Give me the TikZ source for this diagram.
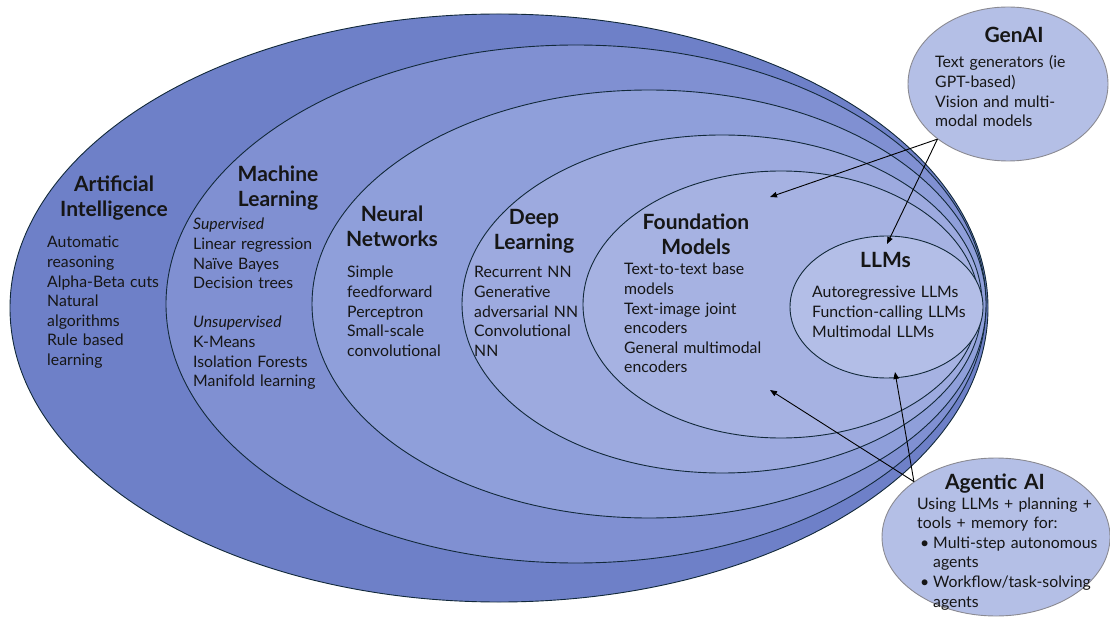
\documentclass[tikz,border=0pt]{standalone}
\usepackage{fontspec}
\setmainfont{Lato}
\usetikzlibrary{shapes.geometric,arrows.meta}

\definecolor{edge}{HTML}{12293A}
\definecolor{ink}{HTML}{161616}
\definecolor{cAI}{HTML}{6E80C8}
\definecolor{cML}{HTML}{8090D2}
\definecolor{cNN}{HTML}{8F9FDA}
\definecolor{cDL}{HTML}{9DAADF}
\definecolor{cFM}{HTML}{A6B2E2}
\definecolor{cLLM}{HTML}{B3BEE7}
\definecolor{cSide}{HTML}{B4BFE6}
\definecolor{sideedge}{HTML}{8A8A92}

\begin{document}
\begin{tikzpicture}[x=1pt,y=-1pt,
  layer/.style={ellipse, draw=edge, line width=0.9pt, inner sep=0pt},
  sidebubble/.style={ellipse, draw=sideedge, line width=0.9pt, fill=cSide, inner sep=0pt},
  title/.style={font=\bfseries\fontsize{21}{25}\selectfont, text width=170pt, align=center,
                anchor=base, text=ink, inner sep=0pt},
  items/.style={font=\fontsize{15.8}{19.6}\selectfont, text width=220pt, align=left,
                anchor=base west, text=ink, inner sep=0pt},
  link/.style={-{Triangle[length=7pt,width=5.5pt]}, line width=0.9pt, draw=black}]

\useasboundingbox (0,0) rectangle (1110,617);

% nested fields, outermost first
\node[layer, fill=cAI,  minimum width=978pt, minimum height=588pt] (ai)  at (499,308) {};
\node[layer, fill=cML,  minimum width=820pt, minimum height=518pt] (ml)  at (576,304) {};
\node[layer, fill=cNN,  minimum width=674pt, minimum height=428pt] (nn)  at (649,304) {};
\node[layer, fill=cDL,  minimum width=520pt, minimum height=338pt] (dl)  at (722,304) {};
\node[layer, fill=cFM,  minimum width=396pt, minimum height=267pt] (fm)  at (781,304.5) {};
\node[layer, fill=cLLM, minimum width=193pt, minimum height=142pt] (llm) at (886.5,307) {};

% side bubbles
\node[sidebubble, minimum width=200pt, minimum height=154pt] (genai)   at (1008,84) {};
\node[sidebubble, minimum width=228pt, minimum height=158pt] (agentic) at (996,537) {};

% Artificial Intelligence
\node[title] (aiT) at (114,192) {Artificial\\Intelligence};
\node[items] (aiL) at (47,248) {Automatic\\reasoning\\Alpha-Beta cuts\\Natural\\algorithms\\Rule based\\learning};

% Machine Learning
\node[title] (mlT) at (278,182) {Machine\\Learning};
\node[items] (mlL) at (193,230) {\textit{Supervised}\\Linear regression\\Naïve Bayes\\Decision trees\\[19.6pt]\textit{Unsupervised}\\K-Means\\Isolation Forests\\Manifold learning};

% Neural Networks
\node[title] (nnT) at (392,222) {Neural\\Networks};
\node[items] (nnL) at (347,278) {Simple\\feedforward\\Perceptron\\Small-scale\\convolutional};

% Deep Learning
\node[title] (dlT) at (534,225) {Deep\\Learning};
\node[items] (dlL) at (474,278) {Recurrent NN\\Generative\\adversarial NN\\Convolutional\\NN};

% Foundation Models
\node[title] (fmT) at (696,230) {Foundation\\Models};
\node[items] (fmL) at (624,275) {Text-to-text base\\models\\Text-image joint\\encoders\\General multimodal\\encoders};

% LLMs
\node[title] (llmT) at (885.5,268) {LLMs};
\node[items] (llmL) at (812,298) {Autoregressive LLMs\\Function-calling LLMs\\Multimodal LLMs};

% GenAI
\node[title] (genT) at (1014,43) {GenAI};
\node[items] (genL) at (935,68) {Text generators (ie\\GPT-based)\\Vision and multi-\\modal models};

% Agentic AI
\node[title] (agT) at (995,489) {Agentic AI};
\node[items] (agL) at (917,509) {Using LLMs + planning +\\tools + memory for:\\
  \makebox[16pt][l]{\hspace{3pt}•}Multi-step autonomous\\\hspace*{16pt}agents\\
  \makebox[16pt][l]{\hspace{3pt}•}Workflow/task-solving\\\hspace*{16pt}agents};

% pointers into the fields
\coordinate (genToFM) at (770,197);
\coordinate (genToLLM) at (887,244);
\coordinate (agToFM) at (770,390);
\coordinate (agToLLM) at (895,372);

\draw[link] (genai.218) -- (genToFM);
\draw[link] (genai.218) -- (genToLLM);
\draw[link] (agentic.146) -- (agToFM);
\draw[link] (agentic.146) -- (agToLLM);
\end{tikzpicture}
\end{document}
